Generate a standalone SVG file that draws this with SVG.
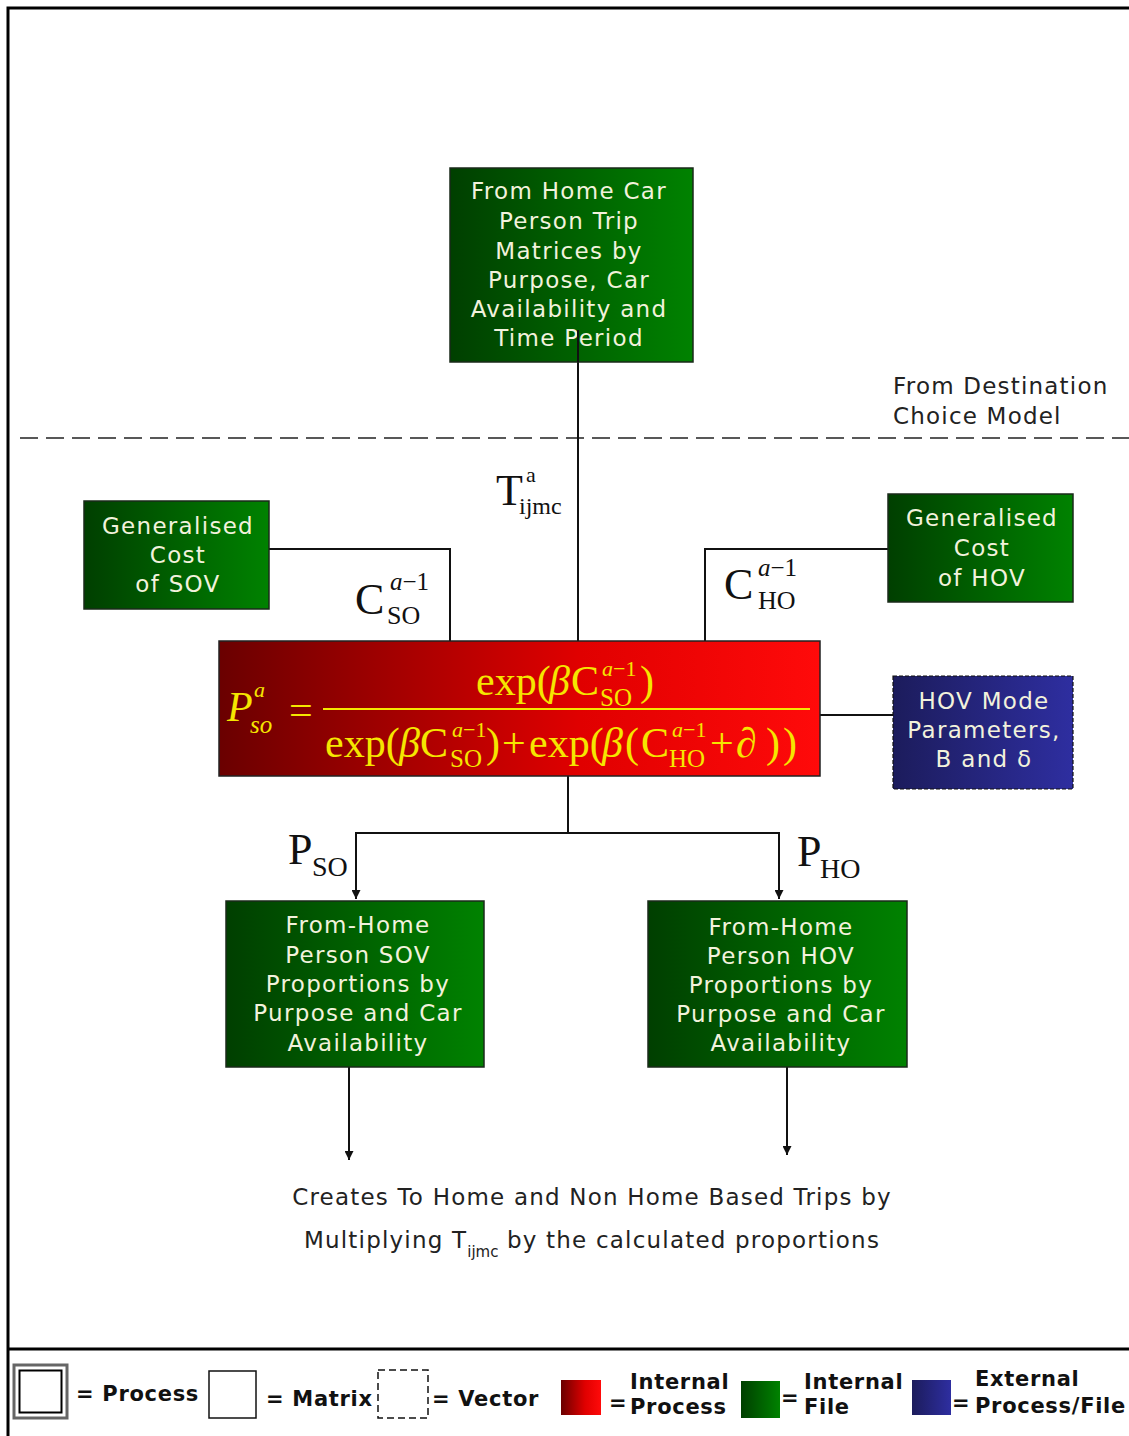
<svg xmlns="http://www.w3.org/2000/svg" width="1129" height="1436" viewBox="0 0 1129 1436">
<defs>
<linearGradient id="gGreen" x1="0" y1="0" x2="1" y2="0"><stop offset="0" stop-color="#003f00"/><stop offset="1" stop-color="#008200"/></linearGradient>
<linearGradient id="gRed" x1="0" y1="0" x2="1" y2="0"><stop offset="0" stop-color="#6a0000"/><stop offset="0.6" stop-color="#e00000"/><stop offset="1" stop-color="#ff0a0a"/></linearGradient>
<linearGradient id="gBlue" x1="0" y1="0" x2="1" y2="0"><stop offset="0" stop-color="#1c1c5c"/><stop offset="1" stop-color="#2e2ea0"/></linearGradient>
<marker id="arr" viewBox="0 0 10 10" refX="10" refY="5" markerWidth="9" markerHeight="9" orient="auto" markerUnits="userSpaceOnUse"><path d="M0,0 L10,5 L0,10 z" fill="#111"/></marker>
</defs>
<style>
.box{stroke:#1a2a1a;stroke-width:1.5}
.gt{font-family:"DejaVu Sans",Verdana,sans-serif;font-size:23px;letter-spacing:1.3px;fill:#f2f2dc;text-anchor:middle}
.ln{fill:none;stroke:#111;stroke-width:2}
.m{font-family:"Liberation Serif","Times New Roman",serif;fill:#111}
.f{font-family:"Liberation Serif","Times New Roman",serif;fill:#f5e600;font-size:42px}
.s{font-size:22px}
.b{font-size:25px}
.i{font-style:italic}
.lg{font-family:"DejaVu Sans",Verdana,sans-serif;font-weight:bold;font-size:21px;letter-spacing:0.7px;fill:#111}
.dt{font-family:"DejaVu Sans",Verdana,sans-serif;font-size:23px;letter-spacing:1.2px;fill:#222}
</style>
<rect width="1129" height="1436" fill="#fff"/>
<g id="frame">
<path d="M8,1436 V8 H1129" fill="none" stroke="#000" stroke-width="3"/>
<path d="M8,1349 H1129" fill="none" stroke="#000" stroke-width="3"/>
<path d="M20,438 H1129" fill="none" stroke="#222" stroke-width="1.5" stroke-dasharray="18,8"/>
</g>
<g id="connectors">
<path class="ln" d="M578,362 V641"/>
<path class="ln" d="M269,549 H450 V641"/>
<path class="ln" d="M888,549 H705 V641"/>
<path class="ln" d="M820,715 H893"/>
<path class="ln" d="M568,776 V833 H356 V899" marker-end="url(#arr)"/>
<path class="ln" d="M568,833 H779 V899" marker-end="url(#arr)"/>
<path class="ln" d="M349,1067 V1160" marker-end="url(#arr)"/>
<path class="ln" d="M787,1067 V1155" marker-end="url(#arr)"/>
</g>
<g id="labels">
<text class="m"><tspan x="496" y="505" font-size="44">T</tspan><tspan x="526" y="482" font-size="22">a</tspan><tspan x="519" y="514" font-size="24">ijmc</tspan></text>
<text class="m"><tspan x="355" y="614" font-size="44">C</tspan><tspan x="390" y="590" font-size="25"><tspan class="i">a</tspan>−1</tspan><tspan x="387" y="624" font-size="26">SO</tspan></text>
<text class="m"><tspan x="724" y="599" font-size="44">C</tspan><tspan x="758" y="576" font-size="25"><tspan class="i">a</tspan>−1</tspan><tspan x="758" y="609" font-size="26">HO</tspan></text>
<text class="m"><tspan x="288" y="864" font-size="44">P</tspan><tspan x="312" y="876" font-size="28">SO</tspan></text>
<text class="m"><tspan x="797" y="866" font-size="44">P</tspan><tspan x="820" y="878" font-size="28">HO</tspan></text>
<text class="dt" x="893" y="394">From Destination</text>
<text class="dt" x="893" y="424">Choice Model</text>
</g>
<g id="n-trips">
<rect class="box" x="450" y="168" width="243" height="194" fill="url(#gGreen)"/>
<text class="gt" x="569" y="199">From Home Car</text>
<text class="gt" x="569" y="229">Person Trip</text>
<text class="gt" x="569" y="259">Matrices by</text>
<text class="gt" x="569" y="288">Purpose, Car</text>
<text class="gt" x="569" y="317">Availability and</text>
<text class="gt" x="569" y="346">Time Period</text>
<path class="ln" d="M578,330 V362"/>
</g>
<g id="n-gcsov">
<rect class="box" x="84" y="501" width="185" height="108" fill="url(#gGreen)"/>
<text class="gt" x="178" y="534">Generalised</text>
<text class="gt" x="178" y="563">Cost</text>
<text class="gt" x="178" y="592">of SOV</text>
</g>
<g id="n-gchov">
<rect class="box" x="888" y="494" width="185" height="108" fill="url(#gGreen)"/>
<text class="gt" x="982" y="526">Generalised</text>
<text class="gt" x="982" y="556">Cost</text>
<text class="gt" x="982" y="586">of HOV</text>
</g>
<g id="n-hovparams">
<rect x="893" y="676" width="180" height="113" fill="url(#gBlue)" stroke="#111" stroke-width="1.2" stroke-dasharray="4,2"/>
<text class="gt" x="984" y="709">HOV Mode</text>
<text class="gt" x="984" y="738">Parameters,</text>
<text class="gt" x="984" y="767">B and δ</text>
</g>
<g id="n-formula">
<rect x="219" y="641" width="601" height="135" fill="url(#gRed)" stroke="#222" stroke-width="1.5"/>
<text class="f"><tspan class="i" x="227" y="721">P</tspan><tspan class="s i" x="254" y="697">a</tspan><tspan class="b i" x="250" y="733">so</tspan><tspan x="289" y="724">=</tspan></text>
<path d="M323,709 H810" stroke="#f5e600" stroke-width="2"/>
<text class="f"><tspan x="476" y="695">exp(</tspan><tspan class="i" x="549" y="695">β</tspan><tspan x="571" y="695">C</tspan><tspan class="s" x="602" y="676"><tspan class="i">a</tspan>−1</tspan><tspan class="b" x="600" y="706">SO</tspan><tspan x="640" y="695">)</tspan></text>
<text class="f"><tspan x="325" y="757">exp(</tspan><tspan class="i" x="399" y="757">β</tspan><tspan x="420" y="757">C</tspan><tspan class="s" x="452" y="737"><tspan class="i">a</tspan>−1</tspan><tspan class="b" x="450" y="767">SO</tspan><tspan x="486" y="757">)</tspan><tspan x="502" y="757">+</tspan><tspan x="529" y="757">exp(</tspan><tspan class="i" x="602" y="757">β</tspan><tspan x="625" y="757">(</tspan><tspan x="641" y="757">C</tspan><tspan class="s" x="672" y="737"><tspan class="i">a</tspan>−1</tspan><tspan class="b" x="669" y="767">HO</tspan><tspan x="710" y="757">+</tspan><tspan class="i" x="736" y="757">∂</tspan><tspan x="766" y="757" letter-spacing="3">))</tspan></text>
</g>
<g id="n-sovprop">
<rect class="box" x="226" y="901" width="258" height="166" fill="url(#gGreen)"/>
<text class="gt" x="358" y="933">From-Home</text>
<text class="gt" x="358" y="963">Person SOV</text>
<text class="gt" x="358" y="992">Proportions by</text>
<text class="gt" x="358" y="1021">Purpose and Car</text>
<text class="gt" x="358" y="1051">Availability</text>
</g>
<g id="n-hovprop">
<rect class="box" x="648" y="901" width="259" height="166" fill="url(#gGreen)"/>
<text class="gt" x="781" y="935">From-Home</text>
<text class="gt" x="781" y="964">Person HOV</text>
<text class="gt" x="781" y="993">Proportions by</text>
<text class="gt" x="781" y="1022">Purpose and Car</text>
<text class="gt" x="781" y="1051">Availability</text>
</g>
<g id="n-output">
<text class="dt" x="592" y="1205" text-anchor="middle">Creates To Home and Non Home Based Trips by</text>
<text class="dt" x="592" y="1248" text-anchor="middle">Multiplying T<tspan font-size="15" letter-spacing="0" dy="9">ijmc</tspan><tspan dy="-9"> by the calculated proportions</tspan></text>
</g>
<g id="legend">
<rect x="14" y="1365" width="53" height="53" fill="#fff" stroke="#666" stroke-width="3"/>
<rect x="19.5" y="1370.5" width="42" height="42" fill="#fff" stroke="#000" stroke-width="2"/>
<text class="lg" x="76" y="1401">= Process</text>
<rect x="209" y="1371" width="47" height="47" fill="#fff" stroke="#111" stroke-width="1.5"/>
<text class="lg" x="266" y="1406">= Matrix</text>
<rect x="378" y="1370" width="50" height="48" fill="#fff" stroke="#111" stroke-width="1.5" stroke-dasharray="7,4"/>
<text class="lg" x="432" y="1406">= Vector</text>
<rect x="561" y="1380" width="40" height="35" fill="url(#gRed)"/>
<text class="lg" x="609" y="1410">=</text>
<text class="lg" x="630" y="1389">Internal</text>
<text class="lg" x="630" y="1414">Process</text>
<rect x="741" y="1381" width="39" height="37" fill="url(#gGreen)"/>
<text class="lg" x="781" y="1405">=</text>
<text class="lg" x="804" y="1389">Internal</text>
<text class="lg" x="804" y="1414">File</text>
<rect x="912" y="1380" width="39" height="35" fill="url(#gBlue)"/>
<text class="lg" x="952" y="1410">=</text>
<text class="lg" x="975" y="1386">External</text>
<text class="lg" x="975" y="1413">Process/File</text>
</g>
</svg>
